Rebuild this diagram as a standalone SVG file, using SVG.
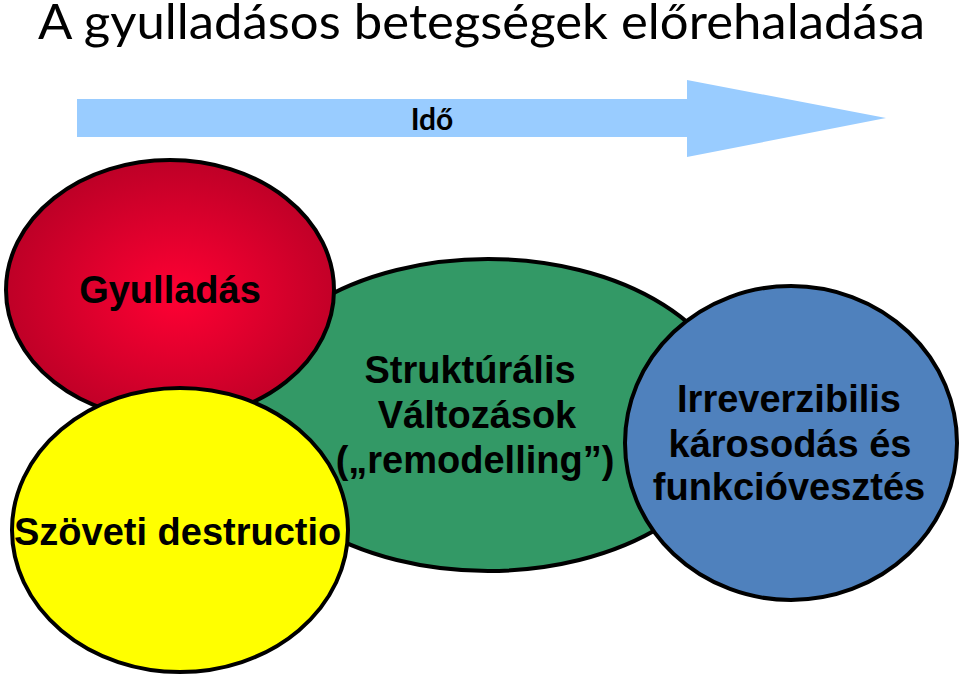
<svg xmlns="http://www.w3.org/2000/svg" width="960" height="678" viewBox="0 0 960 678">
<defs>
<radialGradient id="redg" cx="0.52" cy="0.52" r="0.55">
<stop offset="0" stop-color="#FF0033"/>
<stop offset="1" stop-color="#BA0026"/>
</radialGradient>
</defs>
<style>
.node{stroke:#000;stroke-width:4}
.lbl{font-family:"Liberation Sans",Arial,sans-serif;font-weight:bold;font-size:38px;fill:#000}
.mid{text-anchor:middle}
.title{font-family:Lato,"Open Sans",sans-serif;font-size:48px;fill:#000}
</style>
<rect width="960" height="678" fill="#fff"/>
<text class="title" x="38" y="39" textLength="887" lengthAdjust="spacingAndGlyphs">A gyulladásos betegségek előrehaladása</text>
<g id="connectors">
<polygon points="77,99 687,99 687,80 886,118 687,157 687,137 77,137" fill="#99CCFF"/>
<text x="432" y="130" font-family="Lato,'Open Sans',sans-serif" font-weight="bold" font-size="30" text-anchor="middle" fill="#000">Idő</text>
</g>
<g id="node-green">
<ellipse class="node" cx="488" cy="415" rx="248" ry="156" fill="#339966"/>
<text class="lbl mid" x="470" y="383">Struktúrális</text>
<text class="lbl mid" x="477" y="428">Változások</text>
<text class="lbl mid" x="475" y="473">(„remodelling”)</text>
</g>
<g id="node-blue">
<ellipse class="node" cx="791" cy="443" rx="166" ry="157" fill="#4F81BD"/>
<text class="lbl mid" x="789" y="412">Irreverzibilis</text>
<text class="lbl mid" x="790" y="457">károsodás és</text>
<text class="lbl mid" x="789" y="500">funkcióvesztés</text>
</g>
<g id="node-red">
<ellipse class="node" cx="170" cy="290" rx="164" ry="130" fill="url(#redg)"/>
<text class="lbl mid" x="170" y="303">Gyulladás</text>
</g>
<g id="node-yellow">
<ellipse class="node" cx="180" cy="530" rx="168" ry="142" fill="#FFFF00"/>
<text class="lbl" x="14" y="545">Szöveti destructio</text>
</g>
</svg>
